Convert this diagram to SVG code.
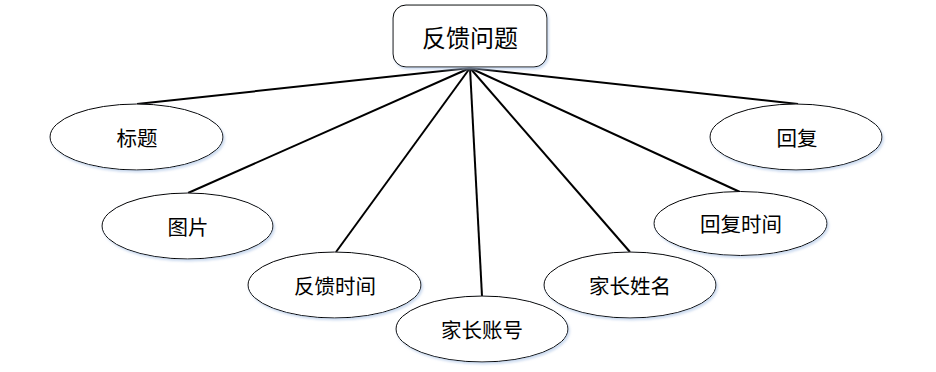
<svg xmlns="http://www.w3.org/2000/svg" width="936" height="372" viewBox="0 0 936 372">
<defs>
<filter id="sh" x="-10%" y="-20%" width="120%" height="140%">
<feDropShadow dx="1.5" dy="2" stdDeviation="1.2" flood-color="#b9cdea" flood-opacity="0.7"/>
</filter>
</defs>
<style>
.n{fill:#ffffff;stroke:#000000;stroke-width:1;filter:url(#sh)}
.t{font-family:"Noto Sans CJK SC","Noto Sans CJK JP",sans-serif;font-size:20.5px;fill:#000;text-anchor:middle;dominant-baseline:central}
.big{font-size:24px}
.c line{stroke:#000;stroke-width:2}
</style>
<rect width="936" height="372" fill="#ffffff"/>
<g id="connectors" class="c">
<line x1="470" y1="68" x2="137" y2="104"/>
<line x1="470" y1="68" x2="188" y2="193"/>
<line x1="470" y1="68" x2="336" y2="252"/>
<line x1="470" y1="68" x2="482" y2="296"/>
<line x1="470" y1="68" x2="630" y2="252"/>
<line x1="470" y1="68" x2="740" y2="192"/>
<line x1="470" y1="68" x2="798" y2="104"/>
</g>
<g id="root">
<rect class="n" x="393" y="5" width="154" height="62" rx="13" ry="13"/>
<text class="t big" x="470" y="36">反馈问题</text>
</g>
<g id="biaoti">
<ellipse class="n" cx="136.5" cy="137" rx="86.5" ry="33"/>
<text class="t" x="137" y="137">标题</text>
</g>
<g id="tupian">
<ellipse class="n" cx="187.5" cy="226" rx="85.5" ry="33"/>
<text class="t" x="188" y="226">图片</text>
</g>
<g id="fankuishijian">
<ellipse class="n" cx="334.5" cy="285" rx="86.5" ry="33"/>
<text class="t" x="335" y="285">反馈时间</text>
</g>
<g id="jiazhangzhanghao">
<ellipse class="n" cx="482" cy="329" rx="86" ry="33"/>
<text class="t" x="482" y="329">家长账号</text>
</g>
<g id="jiazhangxingming">
<ellipse class="n" cx="630" cy="285" rx="86" ry="33"/>
<text class="t" x="630" y="285">家长姓名</text>
</g>
<g id="huifushijian">
<ellipse class="n" cx="740.5" cy="223.5" rx="86.5" ry="32"/>
<text class="t" x="741" y="223">回复时间</text>
</g>
<g id="huifu">
<ellipse class="n" cx="796" cy="137" rx="86" ry="33"/>
<text class="t" x="797" y="137">回复</text>
</g>
</svg>
